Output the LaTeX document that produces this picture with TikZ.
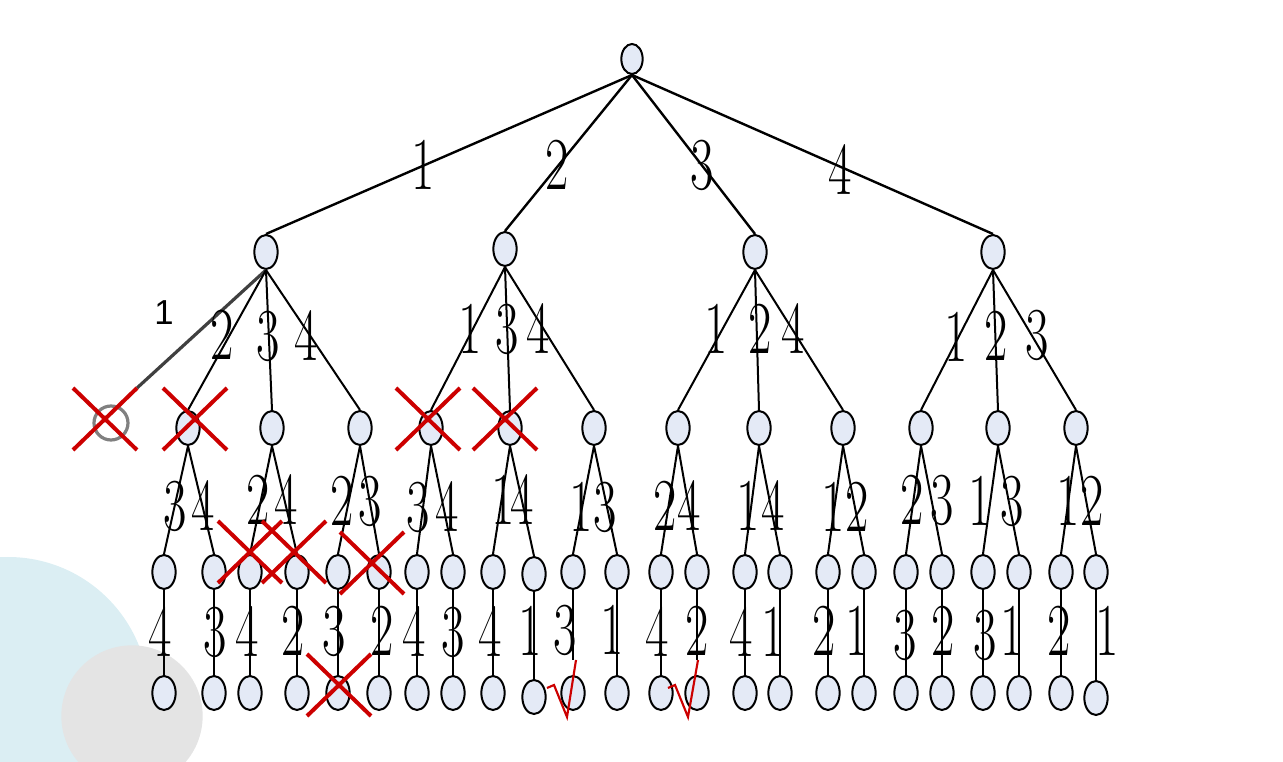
\documentclass[tikz,border=0pt]{standalone}
\usepackage{fontspec}
\usepackage{graphicx}
\newfontfamily\sansone{Liberation Sans}
\usetikzlibrary{shapes.geometric}
\definecolor{nodefill}{RGB}{228,234,246}
\definecolor{markred}{RGB}{204,0,0}
\definecolor{bgblue}{RGB}{219,238,243}
\definecolor{bggray}{RGB}{228,228,228}
\definecolor{ringgray}{RGB}{128,128,128}
\definecolor{darkline}{RGB}{64,64,64}
\newcommand\dg[1]{\scalebox{0.68}[1]{#1}}
\begin{document}
\begin{tikzpicture}[x=0.75pt,y=-0.75pt,
  tnode/.style={ellipse,draw=black,line width=1.5pt,fill=nodefill,minimum width=17.5pt,minimum height=25.5pt,inner sep=0pt},
  rootnode/.style={tnode,minimum width=16pt,minimum height=22.5pt},
  ring/.style={circle,draw=ringgray,line width=2.4pt,minimum size=25.5pt,inner sep=0pt},
  edge/.style={line width=1.5pt,black},
  topedge/.style={line width=1.8pt,black},
  darkedge/.style={line width=2.4pt,darkline},
  dig/.style={inner sep=0pt,font=\fontsize{56}{60}\selectfont},
  sanslabel/.style={inner sep=0pt,font=\sansone\fontsize{26}{30}\selectfont},
  redx/.style={line width=3pt,markred},
  check/.style={line width=1.6pt,markred,line join=miter}
]
\useasboundingbox (0,0) rectangle (1283,762);
\begin{scope}
  \clip (0,0) rectangle (1283,762);
  \fill[bgblue] (8,698) circle[radius=105.75pt];
  \fill[bggray] (132,716) circle[radius=53pt];
\end{scope}

% nodes
\node[rootnode] (root) at (632,59) {};
\foreach \n/\x/\y in {a/266/252, b/505/249, c/755/252, d/993/252}
  \node[tnode] (\n) at (\x,\y) {};
\node[ring] (ax) at (111,423) {};
\foreach \n/\x in {a1/188, a2/272, a3/360, b1/431, b2/510, b3/594,
                   c1/678, c2/759, c3/843, d1/921, d2/998, d3/1076}
  \node[tnode] (\n) at (\x,428) {};
\foreach \n/\x/\y in {a1l/164/572, a1r/214/572, a2l/250/572, a2r/297/572,
  a3l/338/572, a3r/379/572, b1l/417/572, b1r/453/572, b2l/493/572, b2r/534/574,
  b3l/573/572, b3r/617/572, c1l/661/572, c1r/697/572, c2l/745/572, c2r/780/572,
  c3l/828/572, c3r/864/572, d1l/906/572, d1r/942/572, d2l/983/572, d2r/1019/572,
  d3l/1061/572, d3r/1096/572}
  \node[tnode] (\n) at (\x,\y) {};
\foreach \n/\x/\y in {a1l/164/693, a1r/214/693, a2l/250/693, a2r/297/693,
  a3l/338/693, a3r/379/693, b1l/417/693, b1r/453/693, b2l/493/693, b2r/534/697,
  b3l/573/693, b3r/617/693, c1l/661/693, c1r/697/693, c2l/745/693, c2r/780/693,
  c3l/828/693, c3r/864/693, d1l/906/693, d1r/942/693, d2l/983/693, d2r/1019/693,
  d3l/1061/693, d3r/1096/698}
  \node[tnode] (\n-b) at (\x,\y) {};
\coordinate (xend) at (137,388);
\coordinate (b3l-e) at (573,660);
\coordinate (c1r-e) at (697,660);

% edges
\foreach \c in {a,b,c,d}
  \draw[topedge] (root.south) -- (\c.north);
\draw[darkedge] (a.south) -- (xend);
\foreach \p/\c in {a/a1, a/a2, a/a3, b/b1, b/b2, b/b3, c/c1, c/c2, c/c3, d/d1, d/d2, d/d3}
  \draw[edge] (\p.south) -- (\c.north);
\foreach \p in {a1,a2,a3,b1,b2,b3,c1,c2,c3,d1,d2,d3} {
  \draw[edge] (\p.south) -- (\p l.north);
  \draw[edge] (\p.south) -- (\p r.north);
}
\foreach \n in {a1l,a1r,a2l,a2r,a3l,a3r,b1l,b1r,b2l,b2r,b3r,c1l,c2l,c2r,c3l,c3r,d1l,d1r,d2l,d2r,d3l,d3r}
  \draw[edge] (\n.south) -- (\n-b.north);
\draw[edge] (b3l.south) -- (b3l-e);
\draw[edge] (c1r.south) -- (c1r-e);

% labels
\foreach \x/\y/\t [count=\i] in {423/165/1, 557/165/2, 702/165/3, 840/170/4,
  222/335/2, 268/336/3, 306/336/4, 470/329/1, 507/329/3, 538/329/4,
  716/329/1, 760/329/2, 793/329/4, 956/337/1, 996/336/2, 1037/335/3,
  175/506/3, 203/506/4, 258/500/2, 286/500/4, 342/501/2, 370/501/3,
  418/507/3, 447/507/4, 503/500/1, 522/500/4, 581/507/1, 605/507/3,
  665/506/2, 689/506/4, 748/506/1, 773/506/4, 833/507/1, 857/507/2,
  912/500/2, 942/500/3, 980/501/1, 1012/501/3, 1068/501/1, 1092/501/2,
  160/632/4, 215/632/3, 247/632/4, 293/631/2, 334/631/3, 382/631/2,
  414/632/4, 453/632/3, 490/632/4, 530/631/1, 565/630/3, 612/630/1,
  657/632/4, 697/631/2, 741/632/4, 773/632/1, 824/631/2, 857/631/1,
  905/635/3, 943/631/2, 985/635/3, 1012/631/1, 1059/631/2, 1107/631/1}
  \node[dig] (L\i) at (\x,\y) {\dg{\t}};
\node[sanslabel] (L0) at (164,313) {1};

% red crosses
\foreach \x/\y in {105/419, 195/419, 428/419, 505/419, 250/552, 294/552, 372/563, 339/685} {
  \draw[redx] (\x-32,\y-31) -- (\x+32,\y+31);
  \draw[redx] (\x+32,\y-31) -- (\x-32,\y+31);
}
% check marks
\draw[check] (547,688) -- (554,685) -- (567,717) -- (576,660);
\draw[check] (668,688) -- (675,685) -- (688,717) -- (698,660);
\end{tikzpicture}
\end{document}
